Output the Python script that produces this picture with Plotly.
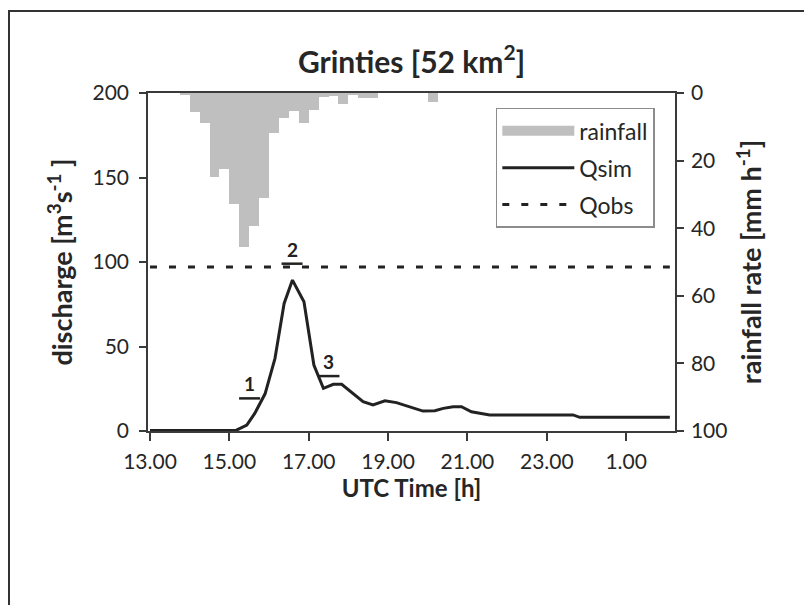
import plotly.graph_objects as go

# ---------------- data ----------------
# discharge (hours since 00:00 of first day; 25 = 01.00 next day)
qsim_time = [13.0, 15.0, 15.18, 15.44, 15.64, 15.90, 16.15, 16.38, 16.59, 16.88, 17.13,
             17.37, 17.62, 17.83, 18.12, 18.37, 18.62, 18.92, 19.21, 19.55, 19.88,
             20.18, 20.39, 20.64, 20.85, 21.10, 21.56, 23.66, 23.83, 26.10]
qsim_value = [0.3, 0.3, 0.5, 3.5, 10.4, 22.0, 43.0, 75.5, 89.3, 76.5, 39.0,
              25.2, 27.6, 27.6, 22.3, 17.4, 15.4, 17.9, 16.8, 14.4, 11.8,
              12.0, 13.4, 14.4, 14.4, 11.4, 9.5, 9.5, 8.1, 8.1]

qobs_time = [13.0, 26.1]
qobs_value = [97.0, 97.0]

# rainfall, 15-minute bins (bin start time)
rain_start = [13.75, 14.0, 14.25, 14.5, 14.75, 15.0, 15.25, 15.5, 15.75, 16.0,
              16.25, 16.5, 16.75, 17.0, 17.25, 17.5, 17.75, 18.0, 18.25, 18.5,
              18.75, 19.0, 19.25, 19.5, 19.75, 20.0]
rain_rate = [0.7, 5.6, 8.8, 24.9, 22.4, 32.9, 45.6, 39.3, 31.0, 11.7,
             7.4, 5.3, 8.8, 5.0, 1.2, 1.0, 3.2, 0.6, 1.5, 1.5,
             0.0, 0.0, 0.0, 0.0, 0.0, 2.7]
rain_bin_hours = 0.25

# numbered markers on hydrograph
mark_labels = ["1", "2", "3"]
mark_time = [15.51, 16.58, 17.51]
mark_q = [19.3, 99.0, 32.5]

x_tickvals = [13, 15, 17, 19, 21, 23, 25]
x_ticktext = ["13.00", "15.00", "17.00", "19.00", "21.00", "23.00", "1.00"]

# ---------------- figure ----------------
FONT = "Lato"
TXT = "#262626"
AX = "#3a3a3a"
INK = "#222222"

fig = go.Figure()

rain_center = [s + rain_bin_hours / 2 for s in rain_start]
fig.add_trace(go.Bar(
    x=rain_center, y=rain_rate, width=rain_bin_hours,
    marker=dict(color="#bfbfbf", line=dict(width=0)),
    yaxis="y", showlegend=False, hoverinfo="skip", legendgroup="z"))

# legend proxy for rainfall (wide grey swatch)
fig.add_trace(go.Scatter(
    x=[None], y=[None], mode="lines", name="rainfall",
    line=dict(color="#bfbfbf", width=16), yaxis="y", legendgroup="a"))

fig.add_trace(go.Scatter(
    x=qsim_time, y=qsim_value, mode="lines", name="Qsim",
    line=dict(color=INK, width=3), yaxis="y2", legendgroup="b"))

fig.add_trace(go.Scatter(
    x=qobs_time, y=qobs_value, mode="lines", name="Qobs",
    line=dict(color=INK, width=3, dash="7px,12px"), yaxis="y2", legendgroup="c"))

# short underline bars for the numbered points
fig.add_trace(go.Scatter(
    x=mark_time, y=mark_q, mode="markers",
    marker=dict(symbol="line-ew-open", size=15, color=INK, line=dict(width=2.5, color=INK)),
    yaxis="y2", showlegend=False, hoverinfo="skip", legendgroup="z"))

for lab, t, q in zip(mark_labels, mark_time, mark_q):
    fig.add_annotation(x=t, y=q, xref="x", yref="y2", text="<b>" + lab + "</b>",
                       showarrow=False, yanchor="bottom", yshift=1,
                       font=dict(family=FONT, size=19, color=INK))

fig.update_layout(
    width=804, height=605,
    margin=dict(l=148, r=129, t=93, b=174),
    paper_bgcolor="white", plot_bgcolor="white",
    font=dict(family=FONT, color=TXT, size=20),
    bargap=0,
    title=dict(text="<b>Grinties [52 km<sup>2</sup>]</b>", x=0.5, xref="paper",
               y=1 - 62 / 605, yref="container", yanchor="middle", xanchor="center",
               font=dict(family=FONT, size=30, color=TXT)),
    xaxis=dict(range=[12.95, 26.23], tickvals=x_tickvals, ticktext=x_ticktext,
               ticks="outside", ticklen=8, tickwidth=1.5, tickcolor=AX,
               showline=True, linecolor=AX, linewidth=1.5, mirror=True,
               showgrid=False, zeroline=False,
               tickfont=dict(size=21, color=TXT), ticklabelstandoff=3,
               title=dict(text="<b>UTC Time [h]</b>", font=dict(size=24, color=TXT), standoff=6)),
    yaxis=dict(range=[100, 0], side="right", tickvals=[0, 20, 40, 60, 80, 100],
               ticks="outside", ticklen=7, tickwidth=1.5, tickcolor=AX,
               showline=True, linecolor=AX, linewidth=1.5,
               showgrid=False, zeroline=False,
               tickfont=dict(size=21, color=TXT), ticklabelstandoff=3,
               title=dict(text="<b>rainfall rate [mm h<sup>-1</sup>]</b>",
                          font=dict(size=27, color=TXT), standoff=16)),
    yaxis2=dict(range=[0, 200], overlaying="y", side="left",
                tickvals=[0, 50, 100, 150, 200],
                ticks="outside", ticklen=7, tickwidth=1.5, tickcolor=AX,
                showline=True, linecolor=AX, linewidth=1.5,
                showgrid=False, zeroline=False,
                tickfont=dict(size=21, color=TXT), ticklabelstandoff=6,
                title=dict(text="<b>discharge [m<sup>3</sup>s<sup>-1</sup> ]</b>",
                           font=dict(size=27, color=TXT), standoff=12)),
    legend=dict(x=0.66, y=0.956, xanchor="left", yanchor="top",
                bgcolor="white", bordercolor="#8c8c8c", borderwidth=1.5,
                font=dict(size=23, color=TXT), tracegroupgap=4,
                itemwidth=72, traceorder="grouped"),
    showlegend=True,
)

# outer frame of the figure
fig.add_shape(type="rect", xref="paper", yref="paper",
              x0=(9 - 148) / 527, x1=(820 - 148) / 527,
              y0=(431 - 620) / 338, y1=(431 - 11) / 338,
              line=dict(color="#333333", width=2), layer="below")

fig.write_html("out.html")
